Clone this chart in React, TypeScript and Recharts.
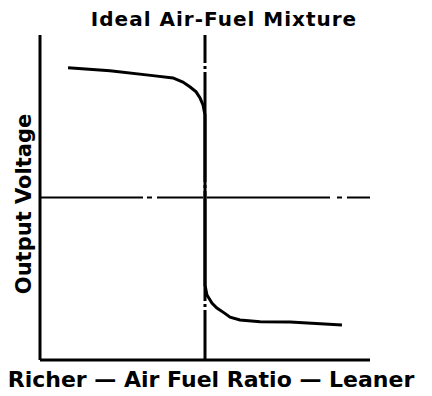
import React from "react";
import { LineChart, Line, XAxis, YAxis, ReferenceLine } from "recharts";

// sensor curve (x: air-fuel ratio 0..100, y: output voltage 0..100)
const ratio = [8.5, 21.2, 34.2, 40.3, 43.3, 45.5, 47.3, 48.5, 49.4, 50, 50, 50, 50, 50.6, 52.1, 53.6, 55.8, 57.6, 60.6, 66.7, 75.8, 91.5];
const voltage = [89.9, 89.0, 87.5, 86.8, 85.5, 84.0, 82.5, 80.6, 78.5, 75.4, 70.8, 27.7, 23.1, 20, 17.5, 16, 14.5, 13.2, 12.3, 11.8, 11.7, 10.8];

const idealRatio = 50;
const midVoltage = 50;

const title = "Ideal Air-Fuel Mixture";
const xLabel = "Richer \u2014 Air Fuel Ratio \u2014 Leaner";
const yLabel = "Output Voltage";

const data = ratio.map((x, i) => ({ x, v: voltage[i] }));

const font = "'DejaVu Sans', sans-serif";

export default function App() {
  return (
    <div style={{ position: "absolute", left: 0, top: 0, width: 432, height: 396, background: "#fff" }}>
      <LineChart
        width={432}
        height={396}
        data={data}
        margin={{ top: 35, right: 62, bottom: 35, left: 39 }}
      >
        <XAxis
          dataKey="x"
          type="number"
          domain={[0, 100]}
          height={1}
          tick={false}
          tickLine={false}
          axisLine={{ stroke: "#000", strokeWidth: 3 }}
        />
        <YAxis
          type="number"
          domain={[0, 100]}
          width={1}
          tick={false}
          tickLine={false}
          axisLine={{ stroke: "#000", strokeWidth: 3 }}
        />
        {/* dash-dot guide lines */}
        <ReferenceLine
          x={idealRatio}
          stroke="#000"
          strokeWidth={3}
          strokeDasharray="110 3 3 3"
          strokeDashoffset={60}
        />
        <ReferenceLine
          y={midVoltage}
          stroke="#000"
          strokeWidth={2}
          strokeDasharray="103 4 5 5 46 4 123 7 5 5 40"
        />
        <Line
          type="linear"
          dataKey="v"
          stroke="#000"
          strokeWidth={3}
          dot={false}
          isAnimationActive={false}
        />
        <text
          x={224}
          y={26}
          textAnchor="middle"
          fontFamily={font}
          fontWeight="bold"
          fontSize={20}
          letterSpacing={1}
          fill="#000"
        >
          {title}
        </text>
        <text
          x={211}
          y={387}
          textAnchor="middle"
          fontFamily={font}
          fontWeight="bold"
          fontSize={22}
          fill="#000"
        >
          {xLabel}
        </text>
        <text
          x={31}
          y={204}
          transform="rotate(-90 31 204)"
          textAnchor="middle"
          fontFamily={font}
          fontWeight="bold"
          fontSize={21}
          fill="#000"
        >
          {yLabel}
        </text>
      </LineChart>
    </div>
  );
}
